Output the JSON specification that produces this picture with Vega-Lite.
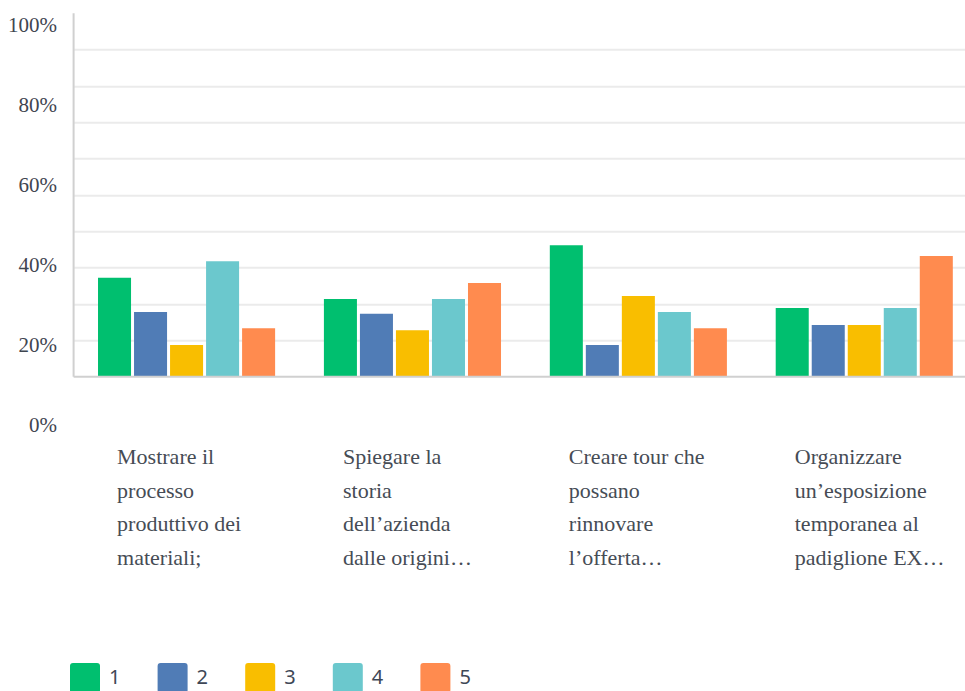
{
  "$schema": "https://vega.github.io/schema/vega-lite/v6.json",
  "usermeta": {"embedOptions": {"actions": false}},
  "autosize": {"type": "none"},
  "padding": {"left": 73.6, "top": 13.3, "right": 0, "bottom": 261},
  "width": 891.4,
  "height": 416.7,
  "background": "white",
  "config": {"view": {"stroke": null}},
  "datasets": {
    "survey": [
      {"item": "Mostrare il\nprocesso\nproduttivo dei\nmateriali;", "rating": "1", "pct": 27.2},
      {"item": "Mostrare il\nprocesso\nproduttivo dei\nmateriali;", "rating": "2", "pct": 17.8},
      {"item": "Mostrare il\nprocesso\nproduttivo dei\nmateriali;", "rating": "3", "pct": 8.7},
      {"item": "Mostrare il\nprocesso\nproduttivo dei\nmateriali;", "rating": "4", "pct": 31.8},
      {"item": "Mostrare il\nprocesso\nproduttivo dei\nmateriali;", "rating": "5", "pct": 13.3},
      {"item": "Spiegare la\nstoria\ndell’azienda\ndalle origini…", "rating": "1", "pct": 21.4},
      {"item": "Spiegare la\nstoria\ndell’azienda\ndalle origini…", "rating": "2", "pct": 17.3},
      {"item": "Spiegare la\nstoria\ndell’azienda\ndalle origini…", "rating": "3", "pct": 12.8},
      {"item": "Spiegare la\nstoria\ndell’azienda\ndalle origini…", "rating": "4", "pct": 21.4},
      {"item": "Spiegare la\nstoria\ndell’azienda\ndalle origini…", "rating": "5", "pct": 25.8},
      {"item": "Creare tour che\npossano\nrinnovare\nl’offerta…", "rating": "1", "pct": 36.2},
      {"item": "Creare tour che\npossano\nrinnovare\nl’offerta…", "rating": "2", "pct": 8.7},
      {"item": "Creare tour che\npossano\nrinnovare\nl’offerta…", "rating": "3", "pct": 22.2},
      {"item": "Creare tour che\npossano\nrinnovare\nl’offerta…", "rating": "4", "pct": 17.8},
      {"item": "Creare tour che\npossano\nrinnovare\nl’offerta…", "rating": "5", "pct": 13.3},
      {"item": "Organizzare\nun’esposizione\ntemporanea al\npadiglione EX…", "rating": "1", "pct": 18.9},
      {"item": "Organizzare\nun’esposizione\ntemporanea al\npadiglione EX…", "rating": "2", "pct": 14.2},
      {"item": "Organizzare\nun’esposizione\ntemporanea al\npadiglione EX…", "rating": "3", "pct": 14.2},
      {"item": "Organizzare\nun’esposizione\ntemporanea al\npadiglione EX…", "rating": "4", "pct": 18.9},
      {"item": "Organizzare\nun’esposizione\ntemporanea al\npadiglione EX…", "rating": "5", "pct": 33.2}
    ],
    "ticks": [{"v": 0}, {"v": 100}],
    "one": [{"k": 1}]
  },
  "layer": [
    {
      "data": {"name": "survey"},
      "mark": {"type": "bar"},
      "encoding": {
        "x": {
          "field": "item",
          "type": "nominal",
          "sort": null,
          "scale": {"paddingInner": 0.216, "paddingOuter": 0.081, "align": 0.667},
          "axis": {
            "orient": "bottom",
            "title": null,
            "domain": false,
            "ticks": false,
            "tickSize": 0,
            "grid": false,
            "labelAngle": 0,
            "labelAlign": "left",
            "labelBaseline": "top",
            "labelOffset": -69.5,
            "labelPadding": 16.6,
            "labelExpr": "split(datum.label, '\\n')",
            "labelLineHeight": 33.7,
            "labelFont": "Liberation Serif",
            "labelFontSize": 22,
            "labelColor": "#464c55",
            "labelLimit": 0,
            "labelOverlap": false,
            "labelBound": false
          }
        },
        "xOffset": {
          "field": "rating",
          "type": "nominal",
          "scale": {"paddingInner": 0.083, "paddingOuter": 0}
        },
        "y": {
          "field": "pct",
          "type": "quantitative",
          "scale": {"domain": [-14.67, 100], "nice": false, "zero": false},
          "axis": {
            "orient": "left",
            "title": null,
            "values": [10, 20, 30, 40, 50, 60, 70, 80, 90],
            "grid": true,
            "gridColor": "#ebebeb",
            "gridWidth": 2,
            "labels": false,
            "ticks": false,
            "tickSize": 0,
            "domain": false
          }
        },
        "color": {
          "field": "rating",
          "type": "nominal",
          "scale": {
            "domain": ["1", "2", "3", "4", "5"],
            "range": ["#00bf6f", "#507cb6", "#f9be00", "#6bc8cd", "#ff8b4f"]
          },
          "legend": {
            "title": null,
            "orient": "none",
            "legendX": -3.6,
            "legendY": 649.7,
            "direction": "horizontal",
            "padding": 0,
            "symbolType": "M-1,-0.8Q-1,-1,-0.8,-1L0.8,-1Q1,-1,1,-0.8L1,0.8Q1,1,0.8,1L-0.8,1Q-1,1,-1,0.8Z",
            "symbolSize": 900,
            "symbolStrokeWidth": 0,
            "symbolOpacity": 1,
            "labelFont": "Noto Sans",
            "labelFontSize": 20,
            "labelColor": "#3e4756",
            "labelOffset": 9,
            "columnPadding": 36.6
          }
        }
      }
    },
    {
      "data": {"name": "one"},
      "mark": {"type": "rule", "color": "#d0d0d0", "strokeWidth": 2},
      "encoding": {
        "y": {"datum": 0, "type": "quantitative", "scale": {"domain": [-14.67, 100], "nice": false, "zero": false}, "axis": null}
      }
    },
    {
      "data": {"name": "one"},
      "mark": {"type": "rule", "color": "#d0d0d0", "strokeWidth": 2},
      "encoding": {
        "x": {"datum": 0, "type": "quantitative", "scale": {"domain": [0, 1], "nice": false, "zero": false}, "axis": null},
        "y": {"datum": 0, "type": "quantitative", "scale": {"domain": [-14.67, 100], "nice": false, "zero": false}, "axis": null},
        "y2": {"datum": 100}
      }
    },
    {
      "data": {"name": "ticks"},
      "mark": {"type": "point", "opacity": 0},
      "encoding": {
        "y": {
          "field": "v",
          "type": "quantitative",
          "scale": {"domain": [-1.25, 102.93], "nice": false, "zero": false},
          "axis": {
            "orient": "left",
            "title": null,
            "values": [0, 20, 40, 60, 80, 100],
            "labelExpr": "datum.value + '%'",
            "grid": false,
            "ticks": false,
            "tickSize": 0,
            "domain": false,
            "labelFont": "Liberation Serif",
            "labelFontSize": 21,
            "labelColor": "#3f4550",
            "labelPadding": 17,
            "labelBound": false,
            "labelFlush": false,
            "labelOverlap": false
          }
        }
      }
    }
  ],
  "resolve": {"scale": {"x": "independent", "y": "independent"}, "axis": {"x": "independent", "y": "independent"}}
}
